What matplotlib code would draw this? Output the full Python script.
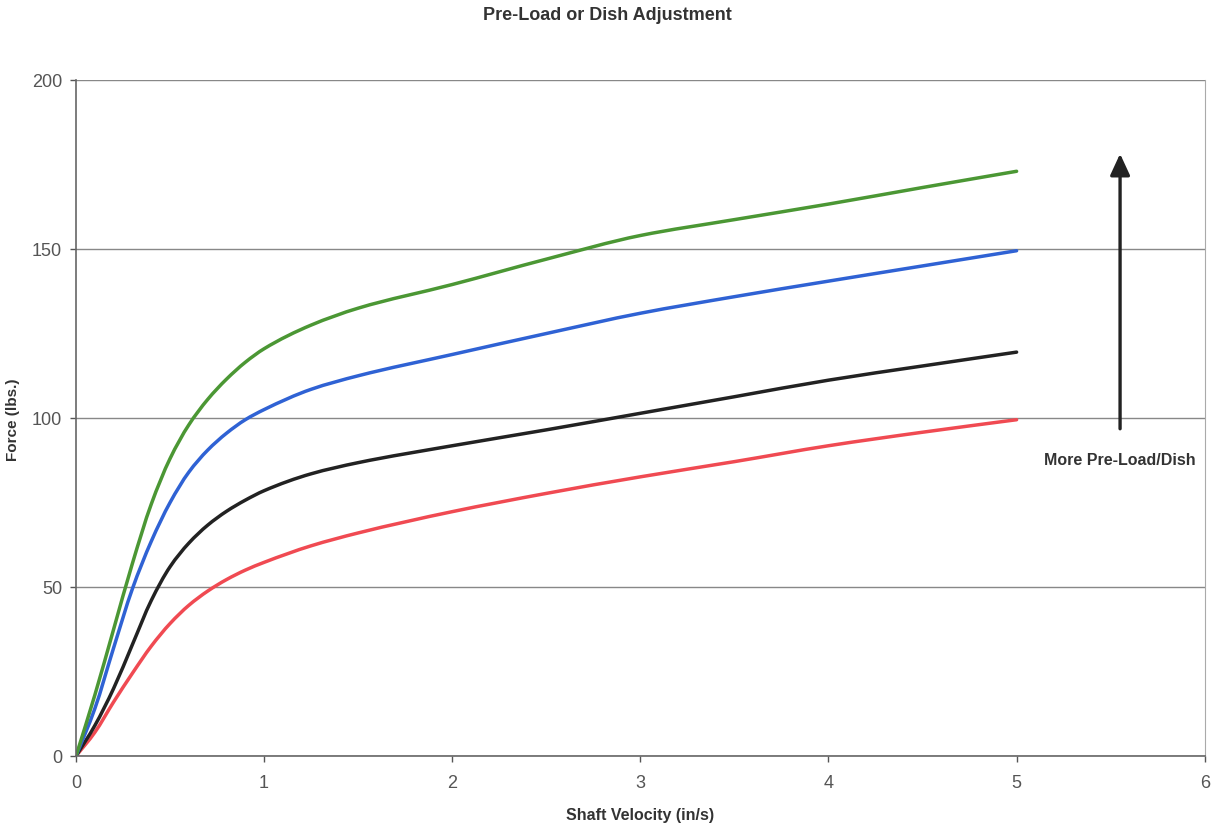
import matplotlib
matplotlib.use('Agg')
import matplotlib.pyplot as plt
from matplotlib.path import Path
from matplotlib.patches import PathPatch

plt.rcParams['font.family'] = ['Liberation Sans', 'DejaVu Sans']

# shaft velocity (in/s)
velocity = [0, 0.1, 0.2, 0.3, 0.4, 0.5, 0.6, 0.7, 0.8, 0.9, 1.0, 1.25, 1.5, 2.0, 2.5, 3.0, 3.5, 4.0, 4.5, 5.0]

# force (lbs) for each pre-load setting, lowest to highest
force_red = [0, 7, 16, 24.5, 32.5, 39.2, 44.6, 48.8, 52.2, 55, 57.3, 62.2, 66, 72.3, 77.7, 82.6, 87.1, 91.8, 95.8, 99.5]
force_black = [0, 9, 20, 33, 46, 56, 63, 68.3, 72.4, 75.7, 78.5, 83.5, 86.8, 91.8, 96.5, 101.4, 106.3, 111.2, 115.4, 119.5]
force_blue = [0, 14, 32, 49.5, 63.5, 75, 84, 90.5, 95.5, 99.5, 102.5, 108.5, 112.5, 118.8, 125, 131, 135.9, 140.5, 145, 149.5]
force_green = [0, 18, 37.5, 57, 74.5, 88, 98, 105.5, 111.5, 116.5, 120.5, 127.5, 132.5, 139.5, 147, 154, 158.7, 163.3, 168.2, 173]


def smooth_line(ax, xs, ys, color):
    # smoothed line (monotone cubic bezier through every point)
    n = len(xs)
    h = [xs[i + 1] - xs[i] for i in range(n - 1)]
    d = [(ys[i + 1] - ys[i]) / h[i] for i in range(n - 1)]
    m = [d[0]] + [0] * (n - 2) + [d[-1]]
    for k in range(1, n - 1):
        if d[k - 1] * d[k] > 0:
            w1 = 2 * h[k] + h[k - 1]
            w2 = h[k] + 2 * h[k - 1]
            m[k] = (w1 + w2) / (w1 / d[k - 1] + w2 / d[k])
    verts = [(xs[0], ys[0])]
    codes = [Path.MOVETO]
    for i in range(n - 1):
        verts += [(xs[i] + h[i] / 3, ys[i] + m[i] * h[i] / 3),
                  (xs[i + 1] - h[i] / 3, ys[i + 1] - m[i + 1] * h[i] / 3),
                  (xs[i + 1], ys[i + 1])]
        codes += [Path.CURVE4] * 3
    ax.add_patch(PathPatch(Path(verts, codes), fill=False, edgecolor=color, lw=2.5,
                           capstyle='round', joinstyle='round'))


fig = plt.figure(figsize=(12.12, 8.25), dpi=100)
ax = fig.add_axes([0.0627, 0.0836, 0.9313, 0.8194])

smooth_line(ax, velocity, force_red, '#f04a52')
smooth_line(ax, velocity, force_black, '#222222')
smooth_line(ax, velocity, force_blue, '#2f62d4')
smooth_line(ax, velocity, force_green, '#4b9734')

ax.set_xlim(0, 6)
ax.set_ylim(0, 200)
ax.set_xticks(range(0, 7))
ax.set_yticks([0, 50, 100, 150, 200])
ax.yaxis.grid(True, color='#888888', lw=1)
ax.set_axisbelow(True)

for s in ['left', 'bottom']:
    ax.spines[s].set_color('#666666')
    ax.spines[s].set_linewidth(1.2)
ax.spines['right'].set_color('#aaaaaa')
ax.spines['top'].set_visible(False)
ax.tick_params(colors='#555555', labelsize=13, length=4, width=1)
ax.tick_params(axis='x', pad=10)
ax.tick_params(axis='y', pad=6)

fig.text(0.5281, 0.012, 'Shaft Velocity (in/s)', ha='center', va='center', fontsize=11.5,
         fontweight='bold', color='#333333')
fig.text(0.0105, 0.491, 'Force (lbs.)', ha='center', va='center', rotation=90, fontsize=11,
         fontweight='bold', color='#333333')
fig.text(0.501, 0.981, 'Pre-Load or Dish Adjustment', ha='center', va='center', fontsize=13,
         fontweight='bold', color='#333333')

ax.annotate('', xy=(5.55, 179), xytext=(5.55, 96),
            arrowprops=dict(arrowstyle='-|>,head_width=0.6,head_length=1.3', color='#222222', lw=2.4))
ax.text(5.55, 87.5, 'More Pre-Load/Dish', ha='center', va='center', fontsize=11.5,
        fontweight='bold', color='#333333')

fig.savefig('out.png', dpi=100)
